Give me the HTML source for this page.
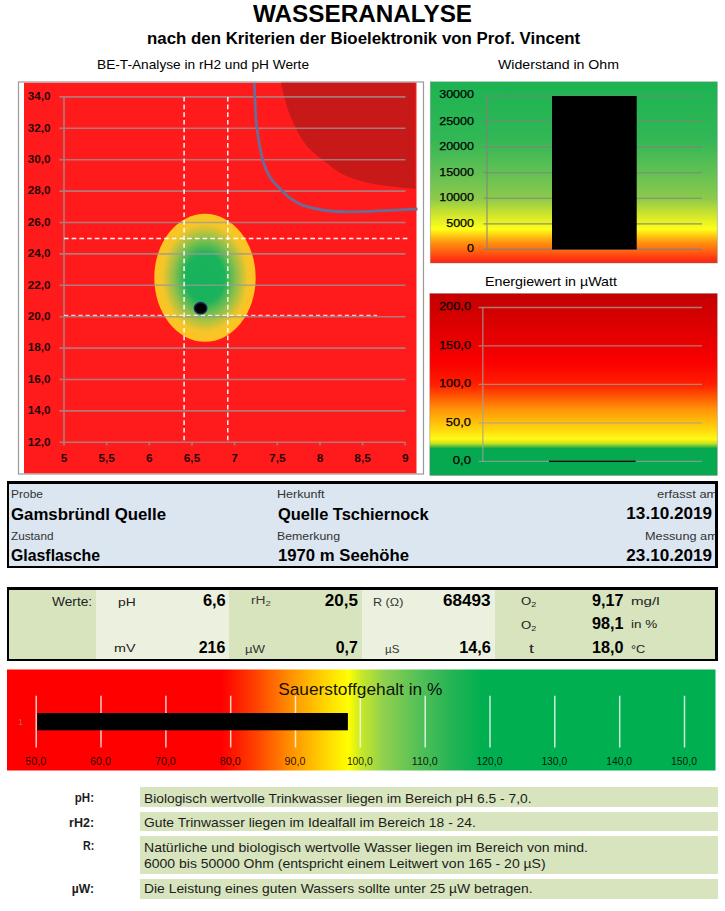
<!DOCTYPE html>
<html lang="de"><head><meta charset="utf-8"><title>Wasseranalyse</title>
<style>
html,body{margin:0;padding:0;background:#fff;}
body{width:725px;height:911px;position:relative;overflow:hidden;font-family:"Liberation Sans", sans-serif;color:#000;}
.abs{position:absolute;display:block;}
.t{position:absolute;white-space:nowrap;line-height:1;margin:0;font-weight:normal;}
.box{position:absolute;box-sizing:border-box;border-style:solid;border-color:#000;overflow:hidden;}
.c{position:absolute;top:0;bottom:0;}
.note{position:absolute;left:140px;width:578px;background:#d7e4bd;}
sub{font-size:0.68em;vertical-align:baseline;position:relative;top:0.28em;}
#pg{position:absolute;left:0;top:0;width:725px;height:911px;}
</style></head><body><div id="pg">
<header>
<h1 id="h1" class="t" style="top:2.11px;font-size:24.2px;font-weight:bold;left:253.2px;transform-origin:0 0;transform:scaleX(1.004);">WASSERANALYSE</h1>
<h2 id="h2" class="t" style="top:30.88px;font-size:16.8px;font-weight:bold;left:146.8px;transform-origin:0 0;transform:scaleX(1.004);">nach den Kriterien der Bioelektronik von Prof. Vincent</h2>
</header>
<section id="charts">
<span id="ct1" class="t" style="top:58.43px;font-size:13.2px;left:97.2px;transform-origin:0 0;transform:scaleX(1.038);">BE-T-Analyse in rH2 und pH Werte</span>
<span id="ct2" class="t" style="top:58.43px;font-size:13.2px;left:498.0px;transform-origin:0 0;transform:scaleX(1.072);">Widerstand in Ohm</span>
<span id="ct3" class="t" style="top:275.23px;font-size:13.2px;left:484.7px;transform-origin:0 0;transform:scaleX(1.080);">Energiewert in µWatt</span>
<svg class="abs" style="left:0;top:76px" width="428" height="402" viewBox="0 76 428 402">
<defs><radialGradient id="gEl" cx="50%" cy="50%" r="50%"><stop offset="0" stop-color="#16b25c"/><stop offset="0.38" stop-color="#1bb35b"/><stop offset="0.62" stop-color="#8fc04a"/><stop offset="0.84" stop-color="#f4c52a"/><stop offset="1" stop-color="#ffc41f"/></radialGradient></defs>
<rect x="18.5" y="82" width="405" height="392" fill="#fff" stroke="#9a9a9a" stroke-width="1.2"/>
<rect x="24" y="82.8" width="392.5" height="390.5" fill="#ff1b1b"/>
<path d="M281.0,82.8 C281.9,86.6 284.2,98.1 286.6,105.6 C289.0,113.1 292.1,120.8 295.6,127.7 C299.1,134.6 303.1,141.5 307.8,147.0 C312.5,152.5 317.9,156.2 323.8,160.8 C329.7,165.4 335.6,170.9 343.0,174.6 C350.4,178.3 359.2,180.7 368.0,182.8 C376.8,184.9 387.6,186.0 395.5,187.0 C403.4,188.0 412.1,188.6 415.4,188.9 L415.4,82.8 Z" fill="#c81919"/>
<ellipse cx="205" cy="277.8" rx="50.7" ry="64" fill="url(#gEl)"/>
<path d="M59.5,96.9H405.5 M59.5,128.3H405.5 M59.5,159.7H405.5 M59.5,191.1H405.5 M59.5,222.5H405.5 M59.5,253.9H405.5 M59.5,285.3H405.5 M59.5,316.7H405.5 M59.5,348.1H405.5 M59.5,379.5H405.5 M59.5,410.9H405.5 M59.5,442.3H405.5 M64.0,96.4V445.5 M106.7,443V445.5 M149.3,443V445.5 M192.0,443V445.5 M234.6,443V445.5 M277.3,443V445.5 M320.0,443V445.5 M362.6,443V445.5 M405.3,443V445.5" stroke="#9a9a9a" stroke-opacity="0.75" stroke-width="1.6" fill="none"/>
<path d="M184.1,96.9V443 M227.8,96.9V443 M64.0,238.6H409" stroke="#fff" stroke-opacity="0.95" stroke-width="1.5" stroke-dasharray="4.6 3.1" fill="none"/>
<path d="M64.0,315.4H377" stroke="#fff" stroke-opacity="0.8" stroke-width="1.2" stroke-dasharray="4.2 3" fill="none"/>
<path d="M254.3,82.8 C254.5,86.5 254.8,97.5 255.2,105.0 C255.6,112.5 255.5,118.4 256.8,127.7 C258.1,137.0 260.8,152.6 263.0,160.8 C265.2,169.0 267.2,172.4 270.0,177.0 C272.8,181.6 276.4,184.8 279.7,188.3 C283.0,191.8 286.3,195.2 290.0,198.0 C293.7,200.8 296.4,202.9 301.7,204.9 C307.0,206.9 314.2,208.8 322.0,210.0 C329.8,211.2 338.1,211.7 348.6,211.8 C359.1,211.9 373.5,211.1 385.0,210.6 C396.5,210.1 412.1,209.3 417.5,209.0" stroke="#6c6b97" stroke-width="2.8" fill="none" stroke-linecap="butt"/>
<ellipse cx="200.6" cy="308.2" rx="6.3" ry="5.7" fill="#000" stroke="#1c2a63" stroke-width="1.3"/>
<g font-family='"Liberation Sans", sans-serif' font-weight="bold" fill="#250000" fill-opacity="0.88">
<text x="27.8" y="100.1" font-size="11.6" textLength="22.8" lengthAdjust="spacingAndGlyphs" fill="#000">34,0</text>
<text x="27.8" y="131.5" font-size="11.6" textLength="22.8" lengthAdjust="spacingAndGlyphs" fill="#000">32,0</text>
<text x="27.8" y="162.9" font-size="11.6" textLength="22.8" lengthAdjust="spacingAndGlyphs" fill="#000">30,0</text>
<text x="27.8" y="194.3" font-size="11.6" textLength="22.8" lengthAdjust="spacingAndGlyphs" fill="#000">28,0</text>
<text x="27.8" y="225.7" font-size="11.6" textLength="22.8" lengthAdjust="spacingAndGlyphs" fill="#000">26,0</text>
<text x="27.8" y="257.1" font-size="11.6" textLength="22.8" lengthAdjust="spacingAndGlyphs" fill="#000">24,0</text>
<text x="27.8" y="288.5" font-size="11.6" textLength="22.8" lengthAdjust="spacingAndGlyphs" fill="#000">22,0</text>
<text x="27.8" y="319.9" font-size="11.6" textLength="22.8" lengthAdjust="spacingAndGlyphs" fill="#000">20,0</text>
<text x="27.8" y="351.3" font-size="11.6" textLength="22.8" lengthAdjust="spacingAndGlyphs" fill="#000">18,0</text>
<text x="27.8" y="382.7" font-size="11.6" textLength="22.8" lengthAdjust="spacingAndGlyphs" fill="#000">16,0</text>
<text x="27.8" y="414.1" font-size="11.6" textLength="22.8" lengthAdjust="spacingAndGlyphs" fill="#000">14,0</text>
<text x="27.8" y="445.5" font-size="11.6" textLength="22.8" lengthAdjust="spacingAndGlyphs" fill="#000">12,0</text>
<text x="64.0" y="462.0" font-size="11.6" text-anchor="middle" textLength="6.6" lengthAdjust="spacingAndGlyphs" fill="#000">5</text>
<text x="106.7" y="462.0" font-size="11.6" text-anchor="middle" textLength="16.5" lengthAdjust="spacingAndGlyphs" fill="#000">5,5</text>
<text x="149.3" y="462.0" font-size="11.6" text-anchor="middle" textLength="6.6" lengthAdjust="spacingAndGlyphs" fill="#000">6</text>
<text x="192.0" y="462.0" font-size="11.6" text-anchor="middle" textLength="16.5" lengthAdjust="spacingAndGlyphs" fill="#000">6,5</text>
<text x="234.6" y="462.0" font-size="11.6" text-anchor="middle" textLength="6.6" lengthAdjust="spacingAndGlyphs" fill="#000">7</text>
<text x="277.3" y="462.0" font-size="11.6" text-anchor="middle" textLength="16.5" lengthAdjust="spacingAndGlyphs" fill="#000">7,5</text>
<text x="320.0" y="462.0" font-size="11.6" text-anchor="middle" textLength="6.6" lengthAdjust="spacingAndGlyphs" fill="#000">8</text>
<text x="362.6" y="462.0" font-size="11.6" text-anchor="middle" textLength="16.5" lengthAdjust="spacingAndGlyphs" fill="#000">8,5</text>
<text x="405.3" y="462.0" font-size="11.6" text-anchor="middle" textLength="6.6" lengthAdjust="spacingAndGlyphs" fill="#000">9</text>
</g></svg>
<svg class="abs" style="left:428px;top:78px" width="297" height="190" viewBox="428 78 297 190">
<defs><linearGradient id="gOhm" x1="0" y1="0" x2="0" y2="1"><stop offset="0" stop-color="#1cb352"/><stop offset="0.317" stop-color="#32b755"/><stop offset="0.493" stop-color="#5fc055"/><stop offset="0.645" stop-color="#8cca4b"/><stop offset="0.73" stop-color="#cde42d"/><stop offset="0.813" stop-color="#ffff19"/><stop offset="0.884" stop-color="#ff960f"/><stop offset="1" stop-color="#ff1e14"/></linearGradient></defs>
<rect x="430.3" y="81.8" width="287" height="181.2" fill="url(#gOhm)" stroke="#7a8a7a" stroke-opacity="0.55" stroke-width="0.8"/>
<path d="M483.5,96.0H702 M483.5,121.5H702 M483.5,147.1H702 M483.5,172.7H702 M483.5,198.2H702 M483.5,223.8H702 M483.5,249.3H702 M487,95.5V250" stroke="#808080" stroke-opacity="0.85" stroke-width="1.15" fill="none"/>
<rect x="552" y="96" width="84.7" height="153.5" fill="#000"/>
<g font-family='"Liberation Sans", sans-serif' fill="#000" stroke="#000" stroke-width="0.25">
<text x="474.0" y="98.1" font-size="11.8" text-anchor="end" textLength="34.8" lengthAdjust="spacingAndGlyphs" fill="#000">30000</text>
<text x="474.0" y="124.6" font-size="11.8" text-anchor="end" textLength="34.8" lengthAdjust="spacingAndGlyphs" fill="#000">25000</text>
<text x="474.0" y="150.2" font-size="11.8" text-anchor="end" textLength="34.8" lengthAdjust="spacingAndGlyphs" fill="#000">20000</text>
<text x="474.0" y="175.8" font-size="11.8" text-anchor="end" textLength="34.8" lengthAdjust="spacingAndGlyphs" fill="#000">15000</text>
<text x="474.0" y="201.3" font-size="11.8" text-anchor="end" textLength="34.8" lengthAdjust="spacingAndGlyphs" fill="#000">10000</text>
<text x="474.0" y="226.8" font-size="11.8" text-anchor="end" textLength="27.8" lengthAdjust="spacingAndGlyphs" fill="#000">5000</text>
<text x="474.0" y="252.4" font-size="11.8" text-anchor="end" textLength="7.0" lengthAdjust="spacingAndGlyphs" fill="#000">0</text>
</g></svg>
<svg class="abs" style="left:428px;top:290px" width="297" height="188" viewBox="428 290 297 188">
<defs><linearGradient id="gW" x1="0" y1="0" x2="0" y2="1"><stop offset="0" stop-color="#c30000"/><stop offset="0.2" stop-color="#e00000"/><stop offset="0.38" stop-color="#fb0000"/><stop offset="0.5" stop-color="#ff1e00"/><stop offset="0.64" stop-color="#ff9608"/><stop offset="0.74" stop-color="#ffd20c"/><stop offset="0.80" stop-color="#fffa14"/><stop offset="0.825" stop-color="#c8e01e"/><stop offset="0.852" stop-color="#06a850"/><stop offset="1" stop-color="#06a850"/></linearGradient></defs>
<rect x="429.8" y="293.5" width="287.5" height="181.9" fill="url(#gW)" stroke="#8a7070" stroke-opacity="0.5" stroke-width="0.8"/>
<path d="M478.6,307.5H702 M478.6,345.9H702 M478.6,384.4H702 M478.6,422.9H702 M478.6,461.3H702 M482.8,307V462" stroke="#a0a0a0" stroke-opacity="0.75" stroke-width="1.35" fill="none"/>
<rect x="549" y="460.6" width="86.6" height="1.4" fill="#101010"/>
<g font-family='"Liberation Sans", sans-serif' fill="#000" stroke="#000" stroke-width="0.25">
<text x="471.0" y="310.1" font-size="11.8" text-anchor="end" textLength="32.0" lengthAdjust="spacingAndGlyphs" fill="#000">200,0</text>
<text x="471.0" y="348.6" font-size="11.8" text-anchor="end" textLength="32.0" lengthAdjust="spacingAndGlyphs" fill="#000">150,0</text>
<text x="471.0" y="387.0" font-size="11.8" text-anchor="end" textLength="32.0" lengthAdjust="spacingAndGlyphs" fill="#000">100,0</text>
<text x="471.0" y="425.5" font-size="11.8" text-anchor="end" textLength="25.2" lengthAdjust="spacingAndGlyphs" fill="#000">50,0</text>
<text x="471.0" y="463.9" font-size="11.8" text-anchor="end" textLength="18.3" lengthAdjust="spacingAndGlyphs" fill="#000">0,0</text>
</g></svg>
</section>
<section id="probe">
<div class="box" style="left:7px;top:481px;width:711px;height:87px;border-width:3px 3px 2px 2px;background:#dce6f1"></div>
<span id="i1" class="t" style="top:489.47px;font-size:10.9px;color:#333;left:11.0px;transform-origin:0 0;transform:scaleX(1.101);">Probe</span>
<span id="i2" class="t" style="top:505.74px;font-size:17.2px;font-weight:bold;left:11.0px;transform-origin:0 0;transform:scaleX(0.978);">Gamsbründl Quelle</span>
<span id="i3" class="t" style="top:530.97px;font-size:10.9px;color:#333;left:11.0px;transform-origin:0 0;transform:scaleX(1.080);">Zustand</span>
<span id="i4" class="t" style="top:547.14px;font-size:17.2px;font-weight:bold;left:11.0px;transform-origin:0 0;transform:scaleX(0.922);">Glasflasche</span>
<span id="i5" class="t" style="top:489.47px;font-size:10.9px;color:#333;left:277.3px;transform-origin:0 0;transform:scaleX(1.154);">Herkunft</span>
<span id="i6" class="t" style="top:505.74px;font-size:17.2px;font-weight:bold;left:278.2px;transform-origin:0 0;transform:scaleX(0.957);">Quelle Tschiernock</span>
<span id="i7" class="t" style="top:530.97px;font-size:10.9px;color:#333;left:277.3px;transform-origin:0 0;transform:scaleX(1.131);">Bemerkung</span>
<span id="i8" class="t" style="top:547.14px;font-size:17.2px;font-weight:bold;left:278.2px;transform-origin:0 0;transform:scaleX(0.972);">1970 m Seehöhe</span>
<span id="i9" class="t" style="top:489.47px;font-size:10.9px;color:#333;left:657.3px;transform-origin:0 0;transform:scaleX(1.188);clip-path:inset(-5px 2.2px -5px -5px);">erfasst am</span>
<span id="i10" class="t" style="top:505.34px;font-size:17.2px;font-weight:bold;right:12.5px;transform-origin:100% 0;transform:scaleX(0.996);">13.10.2019</span>
<span id="i11" class="t" style="top:531.17px;font-size:10.9px;color:#333;left:645.0px;transform-origin:0 0;transform:scaleX(1.167);clip-path:inset(-5px 2.3px -5px -5px);">Messung am</span>
<span id="i12" class="t" style="top:546.84px;font-size:17.2px;font-weight:bold;right:12.5px;transform-origin:100% 0;transform:scaleX(0.996);">23.10.2019</span>
</section>
<section id="werte">
<div class="box" style="left:7px;top:587px;width:711px;height:73.5px;border-width:3px 3px 2.5px 2px;background:#d7e4bd"><div class="c" style="left:86.7px;width:133.4px;background:#ebf1de"></div><div class="c" style="left:353px;width:133.2px;background:#ebf1de"></div></div>
<span id="v0" class="t" style="top:595.54px;font-size:12px;color:#222;right:633.1px;transform-origin:100% 0;transform:scaleX(1.139);">Werte:</span>
<span id="v1" class="t" style="top:596.08px;font-size:11.6px;color:#222;left:118.0px;transform-origin:0 0;transform:scaleX(1.194);">pH</span>
<span id="v2" class="t" style="top:591.92px;font-size:16.4px;font-weight:bold;right:499.5px;transform-origin:100% 0;transform:scaleX(1.005);">6,6</span>
<span id="v3" class="t" style="top:595.74px;font-size:10px;color:#3c3c3c;left:251.2px;transform-origin:0 0;transform:scaleX(1.380);">rH<sub>2</sub></span>
<span id="v4" class="t" style="top:591.92px;font-size:16.4px;font-weight:bold;right:367.0px;transform-origin:100% 0;transform:scaleX(1.041);">20,5</span>
<span id="v5" class="t" style="top:597.83px;font-size:10px;color:#333;left:373.2px;transform-origin:0 0;transform:scaleX(1.259);">R (Ω)</span>
<span id="v6" class="t" style="top:592.02px;font-size:16.4px;font-weight:bold;right:234.0px;transform-origin:100% 0;transform:scaleX(1.046);">68493</span>
<span id="v7" class="t" style="top:596.22px;font-size:11.2px;color:#222;left:521.4px;transform-origin:0 0;transform:scaleX(1.175);">O<sub>2</sub></span>
<span id="v8" class="t" style="top:591.92px;font-size:16.4px;font-weight:bold;left:592.0px;transform-origin:0 0;transform:scaleX(0.987);">9,17</span>
<span id="v9" class="t" style="top:596.01px;font-size:11.8px;color:#222;left:630.7px;transform-origin:0 0;transform:scaleX(1.283);">mg/l</span>
<span id="v10" class="t" style="top:619.72px;font-size:11.2px;color:#222;left:521.4px;transform-origin:0 0;transform:scaleX(1.175);">O<sub>2</sub></span>
<span id="v11" class="t" style="top:614.82px;font-size:16.4px;font-weight:bold;left:592.0px;transform-origin:0 0;transform:scaleX(0.987);">98,1</span>
<span id="v12" class="t" style="top:618.61px;font-size:11.8px;color:#222;left:630.7px;transform-origin:0 0;transform:scaleX(1.141);">in %</span>
<span id="v13" class="t" style="top:643.11px;font-size:11.8px;color:#222;left:113.7px;transform-origin:0 0;transform:scaleX(1.214);">mV</span>
<span id="v14" class="t" style="top:638.92px;font-size:16.4px;font-weight:bold;right:499.5px;transform-origin:100% 0;transform:scaleX(0.976);">216</span>
<span id="v15" class="t" style="top:643.85px;font-size:11.4px;color:#333;left:245.4px;transform-origin:0 0;transform:scaleX(1.160);">µW</span>
<span id="v16" class="t" style="top:638.92px;font-size:16.4px;font-weight:bold;right:367.0px;transform-origin:100% 0;transform:scaleX(0.969);">0,7</span>
<span id="v17" class="t" style="top:644.35px;font-size:11.4px;color:#333;left:384.8px;transform-origin:0 0;transform:scaleX(1.016);">µS</span>
<span id="v18" class="t" style="top:638.82px;font-size:16.4px;font-weight:bold;right:234.0px;transform-origin:100% 0;transform:scaleX(0.994);">14,6</span>
<span id="v19" class="t" style="top:642.60px;font-size:12.4px;color:#222;left:528.8px;transform-origin:0 0;transform:scaleX(1.448);">t</span>
<span id="v20" class="t" style="top:638.72px;font-size:16.4px;font-weight:bold;left:592.0px;transform-origin:0 0;transform:scaleX(0.987);">18,0</span>
<span id="v21" class="t" style="top:642.98px;font-size:11.6px;color:#222;left:630.7px;transform-origin:0 0;transform:scaleX(1.099);">°C</span>
</section>
<section id="sauerstoff">
<svg class="abs" style="left:0;top:666px" width="725" height="108" viewBox="0 666 725 108">
<defs><linearGradient id="gO" gradientUnits="userSpaceOnUse" x1="7" y1="0" x2="715.5" y2="0">
<stop offset="0.0000" stop-color="#ff0000"/><stop offset="0.3035" stop-color="#ff0000"/><stop offset="0.3543" stop-color="#ff4600"/><stop offset="0.4065" stop-color="#ff9a00"/><stop offset="0.4545" stop-color="#ffdc00"/><stop offset="0.4820" stop-color="#ffff00"/><stop offset="0.4996" stop-color="#c8e828"/><stop offset="0.5321" stop-color="#8fd04f"/><stop offset="0.5801" stop-color="#55c057"/><stop offset="0.6253" stop-color="#27b455"/><stop offset="0.6704" stop-color="#00b050"/><stop offset="1.0000" stop-color="#00b050"/>
</linearGradient></defs>
<rect x="7" y="669.5" width="708.5" height="101" fill="url(#gO)"/>
<path d="M36.2,695.7V747.4 M101.0,695.7V747.4 M165.9,695.7V747.4 M230.7,695.7V747.4 M295.5,695.7V747.4 M360.3,695.7V747.4 M425.2,695.7V747.4 M490.0,695.7V747.4 M554.8,695.7V747.4 M619.7,695.7V747.4 M684.5,695.7V747.4" stroke="#fff" stroke-opacity="0.78" stroke-width="1.5" fill="none"/>
<rect x="37.2" y="713" width="310.7" height="17.3" fill="#000"/>
<g font-family='"Liberation Sans", sans-serif'>
<text x="35.7" y="765.3" font-size="10" text-anchor="middle" textLength="20.8" lengthAdjust="spacingAndGlyphs" fill="#000" fill-opacity="0.88">50,0</text>
<text x="100.5" y="765.3" font-size="10" text-anchor="middle" textLength="20.8" lengthAdjust="spacingAndGlyphs" fill="#000" fill-opacity="0.88">60,0</text>
<text x="165.4" y="765.3" font-size="10" text-anchor="middle" textLength="20.8" lengthAdjust="spacingAndGlyphs" fill="#000" fill-opacity="0.88">70,0</text>
<text x="230.2" y="765.3" font-size="10" text-anchor="middle" textLength="20.8" lengthAdjust="spacingAndGlyphs" fill="#000" fill-opacity="0.88">80,0</text>
<text x="295.0" y="765.3" font-size="10" text-anchor="middle" textLength="20.8" lengthAdjust="spacingAndGlyphs" fill="#000" fill-opacity="0.88">90,0</text>
<text x="359.8" y="765.3" font-size="10" text-anchor="middle" textLength="25.8" lengthAdjust="spacingAndGlyphs" fill="#000" fill-opacity="0.88">100,0</text>
<text x="424.7" y="765.3" font-size="10" text-anchor="middle" textLength="25.8" lengthAdjust="spacingAndGlyphs" fill="#000" fill-opacity="0.88">110,0</text>
<text x="489.5" y="765.3" font-size="10" text-anchor="middle" textLength="25.8" lengthAdjust="spacingAndGlyphs" fill="#000" fill-opacity="0.88">120,0</text>
<text x="554.3" y="765.3" font-size="10" text-anchor="middle" textLength="25.8" lengthAdjust="spacingAndGlyphs" fill="#000" fill-opacity="0.88">130,0</text>
<text x="619.2" y="765.3" font-size="10" text-anchor="middle" textLength="25.8" lengthAdjust="spacingAndGlyphs" fill="#000" fill-opacity="0.88">140,0</text>
<text x="684.0" y="765.3" font-size="10" text-anchor="middle" textLength="25.8" lengthAdjust="spacingAndGlyphs" fill="#000" fill-opacity="0.88">150,0</text>
<text x="20.7" y="725.2" font-size="8.5" text-anchor="middle" fill="#c06464">1</text>
<text x="278.2" y="695.0" font-size="16.2" textLength="164.2" lengthAdjust="spacingAndGlyphs" fill="#000" fill-opacity="0.92">Sauerstoffgehalt in %</text>
</g></svg>
</section>
<section id="hinweise">
<div class="note" style="top:787px;height:19.7px"></div>
<div class="note" style="top:811.6px;height:19.6px"></div>
<div class="note" style="top:836px;height:38.1px"></div>
<div class="note" style="top:879px;height:19.7px"></div>
<span id="n1l" class="t" style="top:792.33px;font-size:12.6px;font-weight:bold;color:#1c1c1c;right:630.9px;transform-origin:100% 0;transform:scaleX(0.915);">pH:</span>
<span id="n2l" class="t" style="top:816.53px;font-size:12.6px;font-weight:bold;color:#1c1c1c;right:630.9px;transform-origin:100% 0;transform:scaleX(0.996);">rH2:</span>
<span id="n3l" class="t" style="top:839.93px;font-size:12.6px;font-weight:bold;color:#1c1c1c;right:630.9px;transform-origin:100% 0;transform:scaleX(0.850);">R:</span>
<span id="n4l" class="t" style="top:883.33px;font-size:12.6px;font-weight:bold;color:#1c1c1c;right:630.9px;transform-origin:100% 0;transform:scaleX(0.965);">µW:</span>
<span id="n1" class="t" style="top:792.53px;font-size:12.6px;color:#1c1c1c;left:143.8px;transform-origin:0 0;transform:scaleX(1.094);">Biologisch wertvolle Trinkwasser liegen im Bereich pH 6.5 - 7,0.</span>
<span id="n2" class="t" style="top:816.63px;font-size:12.6px;color:#1c1c1c;left:143.8px;transform-origin:0 0;transform:scaleX(1.100);">Gute Trinwasser liegen im Idealfall im Bereich 18 - 24.</span>
<span id="n3a" class="t" style="top:841.53px;font-size:12.6px;color:#1c1c1c;left:143.8px;transform-origin:0 0;transform:scaleX(1.116);">Natürliche und biologisch wertvolle Wasser liegen im Bereich von mind.</span>
<span id="n3b" class="t" style="top:858.43px;font-size:12.6px;color:#1c1c1c;left:143.8px;transform-origin:0 0;transform:scaleX(1.111);">6000 bis 50000 Ohm (entspricht einem Leitwert von 165 - 20 µS)</span>
<span id="n4" class="t" style="top:883.33px;font-size:12.6px;color:#1c1c1c;left:143.8px;transform-origin:0 0;transform:scaleX(1.102);">Die Leistung eines guten Wassers sollte unter 25 µW betragen.</span>
</section>
</div></body></html>
